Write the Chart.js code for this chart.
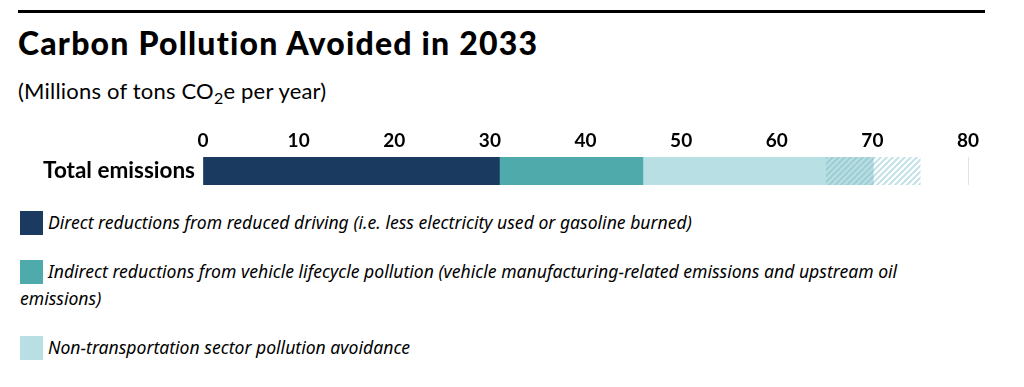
<!DOCTYPE html>
<html>
<head>
<meta charset="utf-8">
<script src="https://cdn.jsdelivr.net/npm/chart.js@4"></script>
<style>
  body { margin: 0; background: #fff; width: 1024px; height: 387px; overflow: hidden; position: relative; font-family: Lato, "Noto Sans", sans-serif; color: #000; }
  #rule { position: absolute; left: 18px; top: 10px; width: 967px; height: 3px; background: #000; }
  #title { position: absolute; left: 18px; top: 23px; font-size: 32px; font-weight: 900; letter-spacing: 1.2px; }
  #sub { position: absolute; left: 18px; top: 77px; font-size: 22px; letter-spacing: 0.2px; }
  #chart { position: absolute; left: 0; top: 120px; }
  #legend { position: absolute; left: 20px; top: 209px; width: 900px; }
  .item { margin-bottom: 22px; font-style: italic; font-size: 17.6px; line-height: 27px; font-family: "Liberation Sans Narrow", "Noto Sans", sans-serif; }
  .item .sw { display: inline-block; width: 23px; height: 24px; margin-right: 5px; vertical-align: -6px; }
</style>
</head>
<body>
<div id="rule"></div>
<div id="title">Carbon Pollution Avoided in 2033</div>
<div id="sub">(Millions of tons CO<sub style="font-size:16px;vertical-align:-5px">2</sub>e per year)</div>
<canvas id="chart" width="1024" height="66"></canvas>
<div id="legend"></div>
<script>
// data
const categories = ['Total emissions'];
const seriesNames = [
  'Direct reductions from reduced driving (i.e. less electricity used or gasoline burned)',
  'Indirect reductions from vehicle lifecycle pollution (vehicle manufacturing-related emissions and upstream oil emissions)',
  'Non-transportation sector pollution avoidance',
  'Range (low)',
  'Range (high)'
];
const direct = [31];
const indirect = [15];
const nonTransport = [19.1];
const rangeLow = [5];
const rangeHigh = [4.9];
const xTicks = [0, 10, 20, 30, 40, 50, 60, 70, 80];

const navy = '#1b3a60';
const teal = '#4faaab';
const light = '#b8dfe4';

function hatch(bg, stripe) {
  const c = document.createElement('canvas');
  c.width = 6; c.height = 6;
  const g = c.getContext('2d');
  if (bg) { g.fillStyle = bg; g.fillRect(0, 0, 6, 6); }
  g.strokeStyle = stripe;
  g.lineWidth = 2;
  g.beginPath();
  g.moveTo(-1, 7); g.lineTo(7, -1);
  g.moveTo(-4, 4); g.lineTo(4, -4);
  g.moveTo(2, 10); g.lineTo(10, 2);
  g.stroke();
  return g.createPattern(c, 'repeat');
}

const seriesValues = [direct, indirect, nonTransport, rangeLow, rangeHigh];
const fills = [navy, teal, light, hatch(light, '#9fcdd3'), hatch(null, '#c3e2e6')];

const ctx = document.getElementById('chart').getContext('2d');
const chart = new Chart(ctx, {
  type: 'bar',
  data: {
    labels: categories,
    datasets: seriesValues.map((v, i) => ({
      label: seriesNames[i],
      data: v,
      backgroundColor: fills[i],
      borderWidth: 0,
      barPercentage: 1,
      categoryPercentage: 1
    }))
  },
  options: {
    indexAxis: 'y',
    responsive: false,
    animation: false,
    layout: { padding: { left: 0, right: 56, top: 0, bottom: 1 } },
    plugins: { legend: { display: false }, tooltip: { enabled: false } },
    scales: {
      x: {
        position: 'top',
        stacked: true,
        min: 0, max: 80,
        afterBuildTicks: s => { s.ticks = xTicks.map(v => ({ value: v })); },
        afterFit: s => { s.height = 37; },
        border: { display: false },
        grid: { color: '#e3e3e3', drawTicks: false },
        ticks: { color: '#000', padding: 5, font: { family: 'Lato', weight: 'bold', size: 19 } }
      },
      y: {
        stacked: true,
        afterFit: s => { s.width = 203; s.paddingTop = 0; s.paddingBottom = 0; },
        border: { display: false },
        grid: { display: false, drawTicks: false },
        ticks: { color: '#000', padding: 8, font: { family: 'Lato', weight: 'bold', size: 22.5 } }
      }
    }
  }
});

// legend for the three solid series
const legend = document.getElementById('legend');
[0, 1, 2].forEach(i => {
  const d = document.createElement('div');
  d.className = 'item';
  d.innerHTML = '<span class="sw" style="background:' + fills[i] + '"></span>' + seriesNames[i];
  legend.appendChild(d);
});
</script>
</body>
</html>
